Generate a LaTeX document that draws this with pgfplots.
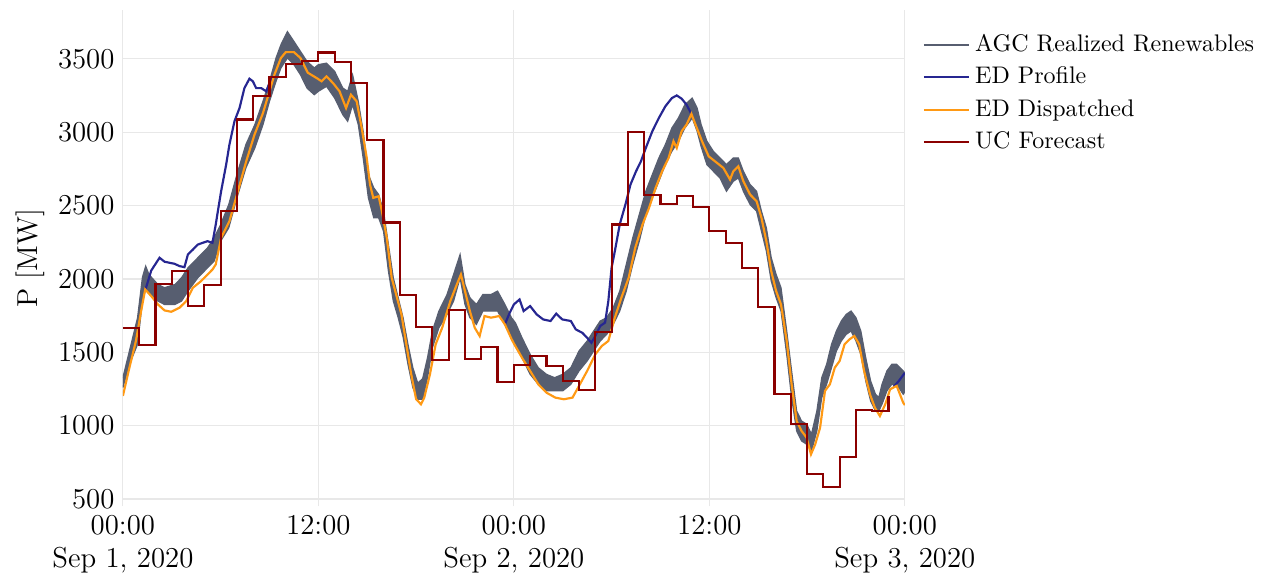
\documentclass[border=0pt]{standalone}
\usepackage{pgfplots}
\pgfplotsset{compat=1.18}
\usepgfplotslibrary{fillbetween}

\definecolor{agc}{RGB}{87,94,112}
\definecolor{edprof}{RGB}{38,38,145}
\definecolor{eddisp}{RGB}{255,153,20}
\definecolor{ucfc}{RGB}{139,0,0}
\definecolor{gridc}{RGB}{232,232,232}

\begin{document}
\begin{tikzpicture}
\begin{axis}[
  name=ax,
  scale only axis,
  width=325.8pt, height=206.7pt,
  xmin=0, xmax=48, ymin=450, ymax=3830,
  axis line style={draw=none},
  tick style={draw=none},
  xtick={0,12,24,36,48},
  xticklabels={{00:00\\Sep 1, 2020},{12:00},{00:00\\Sep 2, 2020},{12:00},{00:00\\Sep 3, 2020}},
  xticklabel style={align=center, font=\large},
  ytick={500,1000,1500,2000,2500,3000,3500},
  yticklabel style={font=\large},
  scaled y ticks=false,
  yticklabel={\pgfmathprintnumber[fixed,precision=0,set thousands separator={}]{\tick}},
  grid=major,
  major grid style={gridc, line width=0.5pt},
  ylabel={P [MW]},
  every axis y label/.style={at={(axis description cs:-0.1187,0.5)}, rotate=90, anchor=center, font=\large},
  legend style={at={(axis description cs:1.013,0.972)}, anchor=north west, draw=none, fill=none, font=\normalsize, row sep=1pt},
  legend cell align=left,
  legend image code/.code={\draw[#1] (0pt,0pt) -- (19pt,0pt);},
  every axis plot/.append style={line width=0.9pt},
]

% AGC realized renewables: upper and lower envelope of the fast-varying signal
\addplot[agc, line width=0.5pt, name path=agcU, forget plot] coordinates {
(0.0,1327) (0.4,1508) (0.9,1735) (1.2,2011) (1.4,2087) (1.6,2030) (2.15,1962)
(2.55,1940) (3.2,1962) (3.6,2008) (4.0,2076) (4.6,2144) (5.2,2212) (5.6,2280)
(6.0,2370) (6.5,2507) (7.0,2711) (7.55,2915) (8.1,3051) (8.6,3210) (9.0,3346)
(9.4,3505) (9.7,3595) (10.1,3685) (10.5,3618) (10.9,3550) (11.3,3482) (11.75,3437)
(12.0,3460) (12.5,3470) (13.0,3414) (13.5,3300) (13.8,3278) (14.1,3391) (14.45,3210)
(14.75,3006) (15.07,2711) (15.4,2620) (15.7,2575) (16.0,2461) (16.3,2234) (16.6,2008)
(16.9,1872) (17.2,1736) (17.5,1554) (17.8,1395) (18.1,1290) (18.4,1320) (18.7,1463)
(19.0,1645) (19.4,1781) (19.9,1894) (20.3,2030) (20.7,2166) (21.0,1962) (21.3,1872)
(21.7,1826) (22.1,1894) (22.6,1894) (23.0,1917) (23.45,1826) (23.85,1736) (24.1,1700)
(24.5,1599) (25.0,1486) (25.5,1395) (26.0,1350) (26.5,1327) (27.0,1350) (27.5,1395)
(28.0,1509) (28.5,1577) (28.9,1645) (29.3,1713) (29.7,1736) (30.1,1804) (30.5,1917)
(30.9,2098) (31.3,2280) (31.7,2439) (32.1,2597) (32.5,2711) (32.9,2824) (33.3,2915)
(33.7,3028) (34.1,3096) (34.5,3187) (34.95,3232) (35.25,3164) (35.5,3050) (35.85,2938)
(36.25,2869) (36.65,2824) (37.05,2779) (37.47,2824) (37.78,2824) (38.09,2733) (38.5,2643)
(38.9,2597) (39.2,2461) (39.5,2348) (39.8,2144) (40.1,2030) (40.4,1940) (40.75,1645)
(41.05,1373) (41.36,1100) (41.66,1032) (41.97,1010) (42.27,942) (42.6,1100) (42.9,1327)
(43.2,1418) (43.5,1554) (43.8,1645) (44.1,1713) (44.4,1758) (44.7,1781) (45.0,1736)
(45.3,1645) (45.6,1463) (45.9,1305) (46.2,1214) (46.4,1191) (46.6,1282) (46.9,1373)
(47.2,1418) (47.5,1418) (47.9,1373) (48.0,1360)
};
\addplot[agc, line width=0.5pt, name path=agcL, forget plot] coordinates {
(0.0,1259) (0.4,1418) (0.9,1554) (1.2,1849) (1.4,1930) (1.6,1900) (2.15,1849)
(2.55,1826) (3.2,1826) (3.6,1849) (4.0,1917) (4.6,2008) (5.2,2076) (5.6,2121)
(6.0,2257) (6.5,2348) (7.0,2552) (7.55,2756) (8.1,2892) (8.6,3051) (9.0,3210)
(9.4,3346) (9.7,3437) (10.1,3505) (10.5,3460) (10.9,3391) (11.3,3300) (11.75,3255)
(12.0,3278) (12.5,3312) (13.0,3232) (13.5,3119) (13.8,3074) (14.1,3187) (14.45,3051)
(14.75,2824) (15.07,2552) (15.4,2416) (15.7,2416) (16.0,2325) (16.3,2053) (16.6,1849)
(16.9,1736) (17.2,1605) (17.5,1418) (17.8,1259) (18.1,1180) (18.4,1180) (18.7,1327)
(19.0,1531) (19.4,1667) (19.9,1758) (20.3,1849) (20.7,2008) (21.0,1826) (21.3,1736)
(21.7,1690) (22.1,1781) (22.6,1781) (23.0,1781) (23.45,1690) (23.85,1599) (24.1,1560)
(24.5,1463) (25.0,1350) (25.5,1282) (26.0,1237) (26.5,1237) (27.0,1237) (27.5,1282)
(28.0,1373) (28.5,1441) (28.9,1509) (29.3,1577) (29.7,1622) (30.1,1690) (30.5,1781)
(30.9,1917) (31.3,2098) (31.7,2257) (32.1,2439) (32.5,2552) (32.9,2665) (33.3,2779)
(33.7,2869) (34.1,2938) (34.5,3028) (34.95,3096) (35.25,3006) (35.5,2900) (35.85,2779)
(36.25,2733) (36.65,2688) (37.05,2597) (37.47,2665) (37.78,2688) (38.09,2597) (38.5,2507)
(38.9,2461) (39.2,2325) (39.5,2189) (39.8,1985) (40.1,1872) (40.4,1781) (40.75,1486)
(41.05,1191) (41.36,964) (41.66,896) (41.97,874) (42.27,828) (42.6,964) (42.9,1191)
(43.2,1282) (43.5,1395) (43.8,1509) (44.1,1577) (44.4,1622) (44.7,1645) (45.0,1577)
(45.3,1486) (45.6,1305) (45.9,1168) (46.2,1100) (46.4,1100) (46.6,1146) (46.9,1237)
(47.2,1282) (47.5,1282) (47.9,1214) (48.0,1230)
};
\addplot[agc, forget plot] fill between[of=agcU and agcL];
\addlegendimage{agc, line width=0.9pt}
\addlegendentry{AGC Realized Renewables}

% ED profile (shown where it departs from the dispatched value)
\addplot[edprof, unbounded coords=jump] table {
x y
1.37 1928
1.43 1943
1.74 2057
2.25 2144
2.56 2117
2.86 2110
3.17 2103
3.48 2087
3.78 2080
3.99 2166
4.3 2200
4.6 2234
4.9 2246
5.2 2257
5.5 2246
5.7 2370
5.83 2461
6.03 2597
6.34 2779
6.54 2915
6.85 3074
7.16 3164
7.46 3300
7.77 3364
7.98 3346
8.18 3300
8.49 3300
8.8 3278
9.0 3334
9.2 3370
9.3 nan
23.45 1690
23.7 1758
24.0 1826
24.35 1860
24.6 1781
25.0 1815
25.4 1758
25.8 1724
26.25 1713
26.6 1763
26.97 1724
27.5 1713
27.8 1656
28.2 1633
28.5 1599
28.76 1565
29.0 1611
29.3 1679
29.6 1702
29.8 1849
30.0 2076
30.2 2189
30.5 2371
30.85 2507
31.16 2643
31.5 2733
31.8 2801
32.1 2892
32.5 3006
32.9 3096
33.3 3176
33.7 3232
34.0 3250
34.3 3228
34.6 3187
34.9 3124
35.0 nan
47.3 1265
47.6 1300
48.0 1360
};
\addlegendentry{ED Profile}

% ED dispatched
\addplot[eddisp] table {
x y
0 1203
0.4 1395
0.8 1577
1.12 1781
1.37 1928
1.74 1883
2.15 1826
2.56 1785
2.97 1776
3.48 1804
3.89 1849
4.3 1940
4.8 1985
5.2 2030
5.5 2064
5.7 2098
6.03 2280
6.54 2393
7.06 2597
7.57 2801
8.08 2983
8.6 3130
9.0 3278
9.3 3391
9.7 3505
10.0 3545
10.5 3545
10.9 3505
11.35 3405
11.9 3368
12.2 3346
12.5 3380
12.9 3334
13.3 3278
13.7 3164
14.0 3255
14.35 3210
14.66 3028
14.97 2824
15.17 2643
15.37 2552
15.7 2563
15.9 2461
16.2 2280
16.5 2008
16.8 1883
17.1 1758
17.4 1554
17.7 1350
18.0 1180
18.3 1146
18.5 1191
18.85 1350
19.2 1554
19.6 1667
20.1 1849
20.5 1962
20.75 2030
21.0 1917
21.3 1781
21.6 1667
21.9 1611
22.2 1747
22.6 1736
23.1 1747
23.45 1690
23.86 1590
24.0 1560
24.5 1463
25.0 1373
25.5 1282
26.0 1225
26.55 1191
27.07 1180
27.6 1191
28.0 1271
28.5 1373
29.0 1486
29.4 1543
29.8 1577
30.2 1736
30.6 1872
31.05 2008
31.45 2212
31.9 2371
32.3 2484
32.7 2620
33.1 2733
33.5 2824
33.8 2938
34.0 2892
34.3 3006
34.6 3051
34.9 3124
35.15 3051
35.55 2938
35.96 2835
36.35 2801
36.86 2756
37.27 2677
37.47 2733
37.78 2767
38.09 2665
38.5 2575
38.9 2529
39.2 2416
39.5 2257
39.8 2053
40.1 1917
40.4 1826
40.75 1577
41.05 1282
41.36 1032
41.66 964
41.97 919
42.24 805
42.5 873
42.8 987
43.1 1237
43.4 1282
43.7 1395
44.0 1441
44.3 1554
44.6 1588
44.9 1611
45.2 1554
45.5 1373
45.86 1214
46.16 1123
46.47 1066
46.8 1146
47.1 1248
47.5 1271
47.9 1157
48.0 1140
};
\addlegendentry{ED Dispatched}

% UC forecast, hourly blocks
\addplot[ucfc, const plot] table {
x y
0 1665
1 1552
2 1966
3 2052
4 1814
5 1957
6 2464
7 3086
8 3245
9 3375
10 3464
11 3482
12 3543
13 3475
14 3334
15 2944
16 2384
17 1891
18 1674
19 1450
20 1788
21 1454
22 1538
23 1298
24 1411
25 1472
26 1404
27 1305
28 1241
29 1638
30 2371
31 3001
32 2570
33 2513
34 2566
35 2488
36 2327
37 2246
38 2076
39 1806
40 1214
41 1010
42 670
43 583
44 787
45 1107
46 1100
47 1200
};
\addlegendentry{UC Forecast}
\end{axis}
\pgfresetboundingbox
\path[use as bounding box] ([shift={(-51.2pt,-31.5pt)}]ax.south west) rectangle ++(527.9pt,242.5pt);
\end{tikzpicture}
\end{document}
